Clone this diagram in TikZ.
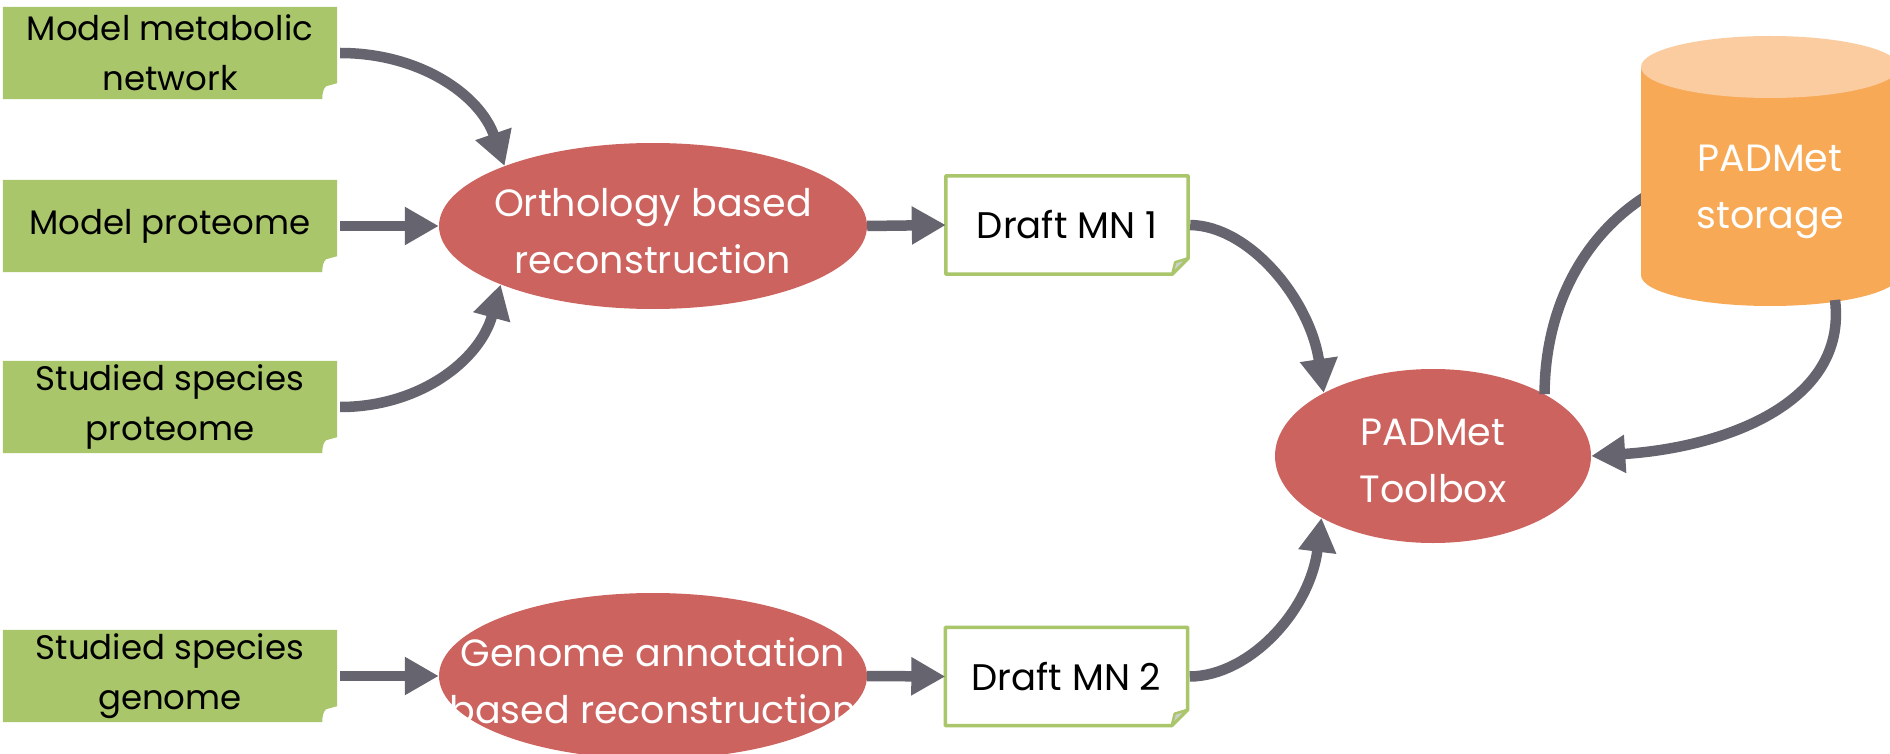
\documentclass[tikz,border=0pt]{standalone}
\usepackage{fontspec}
\setmainfont{Poppins}
\usetikzlibrary{shapes.geometric,arrows.meta,calc,backgrounds}
\definecolor{gbox}{HTML}{A9C66B}
\definecolor{redell}{HTML}{CD635E}
\definecolor{arr}{HTML}{66646F}
\definecolor{orgbody}{HTML}{F8A955}
\definecolor{orgcap}{HTML}{FACC9F}
\definecolor{foldgray}{HTML}{CFCFCF}
\newcommand\drawgreen[1]{%
  \fill[gbox] (#1.north west) -- (#1.north east) -- ($(#1.south east)+(0,-16)$)
    -- ($(#1.south east)+(-11,-13)$) .. controls ($(#1.south east)+(-14,-11)$) and ($(#1.south east)+(-15,-5)$) .. ($(#1.south east)+(-15,0)$)
    -- (#1.south west) -- cycle;}
\newcommand\drawdraft[1]{%
  \draw[gbox,line width=3.5pt,fill=white,line join=round] (#1.north west) -- (#1.north east) -- ($(#1.south east)+(0,-16)$)
    -- ($(#1.south east)+(-16,0)$) -- (#1.south west) -- cycle;
  \filldraw[draw=gbox,fill=foldgray,line width=2.5pt,line join=round] ($(#1.south east)+(0,-16)$) -- ($(#1.south east)+(-13,-12)$) -- ($(#1.south east)+(-16,0)$) -- cycle;}
\begin{document}
\begin{tikzpicture}[x=1pt,y=-1pt,
  boxnode/.style={minimum width=334pt,minimum height=92pt,inner sep=0pt,align=center,font=\fontsize{34}{50}\selectfont},
  ell/.style={ellipse,fill=redell,inner sep=0pt},
  wtext/.style={text=white,align=center,inner sep=0pt,font=\fontsize{38}{57}\selectfont},
  draftnode/.style={minimum width=242pt,minimum height=98pt,inner sep=0pt,font=\fontsize{37}{40}\selectfont},
  conn/.style={draw=arr,line width=10.5pt},
  arrowhd/.style={-{Triangle[length=34pt 0,width=36pt 0]}}
]
\clip (0,0) rectangle (1890,754);
% green input boxes
\node[boxnode] (b1) at (170,53) {Model metabolic\\network};
\node[boxnode] (b2) at (170,226) {Model proteome};
\node[boxnode] (b3) at (170,407) {Studied species\\proteome};
\node[boxnode] (b4) at (170,676) {Studied species\\genome};
% draft boxes
\node[draftnode] (d1) at (1067,225) {Draft MN 1};
\node[draftnode] (d2) at (1066.5,676.5) {Draft MN 2};
\begin{pgfonlayer}{background}
  \fill[white] (0,0) rectangle (1890,754);
  \drawgreen{b1}\drawgreen{b2}\drawgreen{b3}\drawgreen{b4}
  \drawdraft{d1}\drawdraft{d2}
\end{pgfonlayer}
% ellipses
\node[ell,minimum width=428pt,minimum height=166pt] (e1) at (653,226) {};
\node[wtext] (e1t) at (653,231) {Orthology based\\reconstruction};
\node[ell,minimum width=428pt,minimum height=166pt] (e2) at (653,676) {};
\node[wtext] (e2t) at (653,681) {Genome annotation\\based reconstruction};
\node[ell,minimum width=316pt,minimum height=174pt] (tb) at (1433,456) {};
\node[wtext] (tbt) at (1433,461) {PADMet\\Toolbox};
% storage connection (behind cylinder)
\coordinate (cylL) at (1660,188);
\coordinate (cylB) at (1835,300);
\draw[conn] (tb.29) .. controls (1545,300) and (1590,225) .. (cylL);
% cylinder
\fill[orgbody] (1641,67) -- (1641,275) arc[start angle=180,end angle=360,x radius=129pt,y radius=31pt] -- (1899,67) -- cycle;
\fill[orgcap] (1770,67) ellipse[x radius=129pt,y radius=31pt];
\node[wtext] (st) at (1770,192) {PADMet\\storage};
% connectors
\draw[conn,arrowhd] ([xshift=3pt]b1.east) .. controls (420,53) and (480,95) .. (e1.158.7);
\draw[conn,arrowhd] ([xshift=3pt]b2.east) -- (e1.west);
\draw[conn,arrowhd] ([xshift=3pt]b3.east) .. controls (420,407) and (480,360) .. (e1.201.3);
\draw[conn,arrowhd] ([xshift=3pt]b4.east) -- (e2.west);
\draw[conn,arrowhd] (e1.east) -- (d1.west);
\draw[conn,arrowhd] (e2.east) -- (d2.west);
\draw[conn,arrowhd] ([xshift=2pt]d1.east) .. controls (1250,226) and (1310,300) .. (tb.150.4);
\draw[conn,arrowhd] ([xshift=2pt]d2.east) .. controls (1250,676) and (1310,610) .. (tb.209.2);
\draw[conn,arrowhd] (cylB) .. controls (1848,405) and (1720,448) .. (tb.east);
\end{tikzpicture}
\end{document}
